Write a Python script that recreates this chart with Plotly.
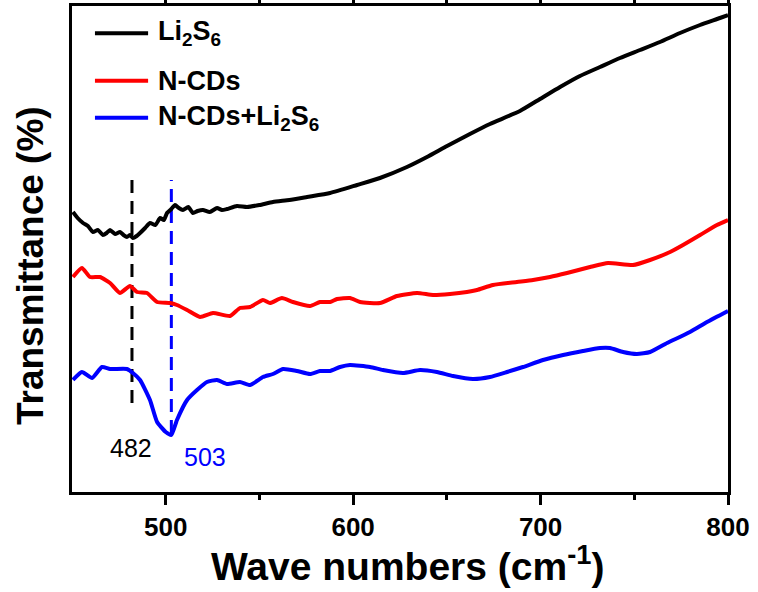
import plotly.graph_objects as go

# ---------------- data ----------------
li2s6_x = [450.5, 453.0, 455.9, 458.5, 461.2, 463.8, 466.5, 468.5, 470.3, 473.0,
           475.6, 477.5, 479.3, 481.0, 482.5, 484.5, 486.3, 489.0, 491.6, 494.5,
           497.0, 499.0, 500.7, 503.0, 505.0, 507.0, 509.2, 512.0, 514.6, 517.0,
           519.9, 523.5, 527.4, 530.0, 532.7, 538.0, 543.4, 550.0, 557.2, 566.0,
           575.4, 587.7, 602.1, 614.3, 628.7, 639.4, 650.1, 662.3, 673.0,
           689.0, 699.7, 710.4, 721.0, 731.7, 742.4, 753.1, 763.7, 774.4, 785.1,
           795.7, 800.0]
li2s6_y = [280, 274, 269, 266, 260, 262, 257, 259, 262, 258,
           260, 257, 255, 257, 254, 256, 259, 264, 269, 267,
           274, 272, 279, 283, 287, 284, 282, 285, 279, 281,
           282, 280, 284, 282, 283, 286, 285, 287, 290, 292,
           295, 299, 307, 314, 325, 335, 346, 358, 368,
           381, 393, 405, 416, 425, 434, 442, 450, 459, 467,
           474, 477]

ncds_x = [450.5, 455.3, 459.6, 464.9, 470.3, 475.6, 480.9, 484.7, 490.0, 495.4,
          502.3, 506.0, 511.4, 518.3, 525.2, 534.3, 539.6, 545.0, 551.9, 555.6,
          562.0, 567.9, 577.0, 582.3, 587.7, 591.4, 598.3, 603.7, 614.3, 623.4,
          634.1, 642.6, 651.7, 660.7, 666.1, 674.6, 687.4, 696.0, 705.0, 714.1,
          726.4, 736.0, 749.3, 758.4, 769.1, 776.0, 785.1, 794.1, 800.0]
ncds_y = [215, 224, 215, 215, 209, 199, 206, 200, 199, 190,
          189, 187, 182, 175, 179, 176, 184, 185, 192, 189,
          194, 190, 186, 190, 190, 193, 194, 190, 189, 196,
          199, 197, 198, 200, 202, 207, 210, 212, 215, 219,
          225, 229, 227, 232, 240, 247, 257, 267, 272]

mix_x = [450.5, 455.3, 460.7, 466.0, 470.3, 479.3, 482.5, 486.3, 491.6, 495.4,
         500.0, 503.0, 506.0, 511.4, 516.7, 522.0, 527.4, 532.7, 539.6, 545.0,
         551.9, 557.2, 562.6, 570.0, 577.0, 582.3, 587.7, 593.0, 598.3, 609.0,
         615.9, 626.6, 635.7, 644.7, 653.3, 663.9, 673.0, 682.1, 690.6, 701.3,
         712.0, 722.6, 731.7, 737.0, 744.0, 751.4, 758.4, 767.5, 779.7, 788.8,
         800.0]
mix_y = [112, 120, 114, 125, 123, 123, 119, 112, 92, 70,
         60, 57, 72, 92, 102, 110, 112, 108, 110, 107,
         115, 118, 123, 121, 118, 121, 121, 125, 127, 125,
         122, 119, 122, 120, 116, 113, 115, 120, 125, 132,
         137, 141, 144, 144, 140, 138, 140, 149, 160, 170,
         181]

series_names = ["Li<sub>2</sub>S<sub>6</sub>", "N-CDs", "N-CDs+Li<sub>2</sub>S<sub>6</sub>"]
series_colors = ["#000000", "#ff0000", "#0000ff"]

peak_positions = [482, 503]
peak_labels = ["482", "503"]
peak_colors = ["#000000", "#0000ff"]
peak_line_bottoms = [89, 59]
peak_line_top = 312

x_tick_vals = [500, 600, 700, 800]
x_tick_text = ["500", "600", "700", "800"]

FONT = "Liberation Sans, Arial, sans-serif"

fig = go.Figure()

# dashed peak markers
for p, c, b in zip(peak_positions, peak_colors, peak_line_bottoms):
    fig.add_trace(go.Scatter(x=[p, p], y=[b, peak_line_top], mode="lines",
                             line=dict(color=c, width=3, dash="13px,8px"),
                             showlegend=False, hoverinfo="skip"))

for xs, ys, name, col in zip([li2s6_x, ncds_x, mix_x], [li2s6_y, ncds_y, mix_y],
                             series_names, series_colors):
    fig.add_trace(go.Scatter(x=xs, y=ys, mode="lines", name=name,
                             line=dict(color=col, width=4, shape="spline",
                                       smoothing=0.5),
                             showlegend=False))

# peak labels
fig.add_annotation(x=peak_positions[0], y=44, text=peak_labels[0], showarrow=False,
                   xanchor="center", yanchor="middle", xshift=-1,
                   font=dict(family=FONT, size=25, color=peak_colors[0]))
fig.add_annotation(x=peak_positions[1], y=35, text=peak_labels[1], showarrow=False,
                   xanchor="center", yanchor="middle", xshift=34,
                   font=dict(family=FONT, size=25, color=peak_colors[1]))

# manual legend
leg_y = [0.944, 0.846, 0.770]
for name, col, ly in zip(series_names, series_colors, leg_y):
    fig.add_shape(type="line", xref="paper", yref="paper",
                  x0=0.035, x1=0.116, y0=ly, y1=ly,
                  line=dict(color=col, width=4))
    fig.add_annotation(xref="paper", yref="paper", x=0.128, y=ly,
                       text="<b>" + name + "</b>", showarrow=False,
                       xanchor="left", yanchor="middle",
                       font=dict(family=FONT, size=27, color="black"))

# axis titles
fig.add_annotation(xref="paper", yref="paper", x=0.511, y=-0.148,
                   text="<b>Wave numbers (cm<sup>-1</sup>)</b>", showarrow=False,
                   xanchor="center", yanchor="middle",
                   font=dict(family=FONT, size=39, color="black"))
fig.add_annotation(xref="paper", yref="paper", x=-0.064, y=0.465,
                   text="<b>Transmittance (%)</b>", showarrow=False, textangle=-90,
                   xanchor="center", yanchor="middle",
                   font=dict(family=FONT, size=37, color="black"))

fig.update_layout(
    width=758, height=592,
    margin=dict(l=72, r=30, t=6, b=100, autoexpand=False),
    paper_bgcolor="white", plot_bgcolor="white",
    showlegend=False,
    xaxis=dict(range=[450, 800], showline=True, linewidth=3, linecolor="black",
               mirror="ticks", ticks="outside", ticklen=10, tickwidth=3,
               tickcolor="black", tickvals=x_tick_vals, ticktext=x_tick_text,
               tickfont=dict(family=FONT, size=26, color="black", weight="bold"),
               showgrid=False, zeroline=False, automargin=False,
               minor=dict(tickvals=[550, 650, 750], ticks="outside", ticklen=5,
                          tickwidth=3, tickcolor="black", showgrid=False)),
    yaxis=dict(range=[0, 486], showline=True, linewidth=3, linecolor="black",
               mirror=True, ticks="", showticklabels=False, showgrid=False,
               zeroline=False, automargin=False),
)

fig.write_html("out.html")
